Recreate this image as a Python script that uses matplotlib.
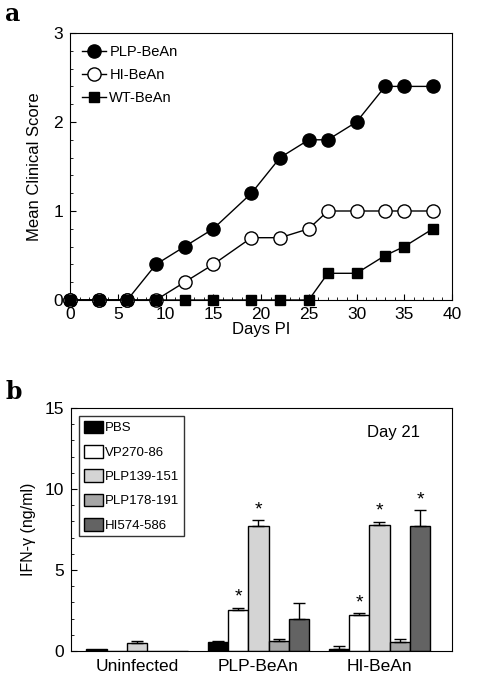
import matplotlib
matplotlib.use("Agg")
import matplotlib.pyplot as plt
import numpy as np
from matplotlib.ticker import MultipleLocator

plt.rcParams['font.family'] = ['Liberation Sans', 'DejaVu Sans']

# Panel a data
days = [0, 3, 6, 9, 12, 15, 19, 22, 25, 27, 30, 33, 35, 38]
plp_score = [0, 0, 0, 0.4, 0.6, 0.8, 1.2, 1.6, 1.8, 1.8, 2.0, 2.4, 2.4, 2.4]
hi_score = [0, 0, 0, 0, 0.2, 0.4, 0.7, 0.7, 0.8, 1.0, 1.0, 1.0, 1.0, 1.0]
wt_score = [0, 0, 0, 0, 0, 0, 0, 0, 0, 0.3, 0.3, 0.5, 0.6, 0.8]

# Panel b data
groups = ["Uninfected", "PLP-BeAn", "HI-BeAn"]
peptides = ["PBS", "VP270-86", "PLP139-151", "PLP178-191", "HI574-586"]
ifn_values = {
    "PBS":        [0.15, 0.56, 0.12],
    "VP270-86":   [0.0, 2.56, 2.20],
    "PLP139-151": [0.52, 7.71, 7.77],
    "PLP178-191": [0.0, 0.60, 0.54],
    "HI574-586":  [0.0, 1.98, 7.71],
}
ifn_errors = {
    "PBS":        [0.0, 0.05, 0.18],
    "VP270-86":   [0.0, 0.12, 0.15],
    "PLP139-151": [0.10, 0.35, 0.22],
    "PLP178-191": [0.0, 0.15, 0.23],
    "HI574-586":  [0.0, 1.00, 0.97],
}
significant = {
    "VP270-86": [False, True, True],
    "PLP139-151": [False, True, True],
    "HI574-586": [False, False, True],
}
bar_colors = ["#000000", "#ffffff", "#d4d4d4", "#a6a6a6", "#636363"]

fig = plt.figure(figsize=(4.87, 6.97), dpi=100)

# ---------- Panel a ----------
axa = fig.add_axes([70/487, 1-300/697, 382/487, 267/697])
axa.plot(days, plp_score, '-o', color='black', mfc='black', mec='black', ms=9.5, lw=1, label='PLP-BeAn', clip_on=False, zorder=3)
axa.plot(days, hi_score, '-o', color='black', mfc='white', mec='black', ms=9.5, lw=1, label='HI-BeAn', clip_on=False, zorder=4)
axa.plot(days, wt_score, '-s', color='black', mfc='black', mec='black', ms=7.5, lw=1, label='WT-BeAn', clip_on=False, zorder=5)
axa.set_xlim(0, 40)
axa.set_ylim(0, 3)
axa.xaxis.set_major_locator(MultipleLocator(5))
axa.xaxis.set_minor_locator(MultipleLocator(1))
axa.yaxis.set_major_locator(MultipleLocator(1))
axa.yaxis.set_minor_locator(MultipleLocator(0.2))
axa.tick_params(which='both', direction='in', top=False, right=False, labelsize=12.5)
axa.tick_params(which='major', length=4, pad=5)
axa.tick_params(which='minor', length=2.5)
axa.set_xlabel("Days PI", fontsize=12, labelpad=0)
axa.set_ylabel("Mean Clinical Score", fontsize=12, labelpad=8)
axa.legend(loc='upper left', frameon=False, fontsize=10.5, handlelength=1.6,
           handletextpad=0.25, borderaxespad=0.45, labelspacing=0.6,
           bbox_to_anchor=(0.0, 1.0))
fig.text(5/487, 1-14/697, "a", fontsize=17, fontweight='bold', family='DejaVu Serif', va='center')

# ---------- Panel b ----------
axb = fig.add_axes([71/487, 1-651/697, 381/487, 243/697])
w = 0.168
x = np.arange(len(groups))
for i, pep in enumerate(peptides):
    xs = x + (i - 2) * w
    vals = ifn_values[pep]
    errs = ifn_errors[pep]
    axb.bar(xs, vals, width=w, color=bar_colors[i], edgecolor='black', lw=1, label=pep, zorder=2)
    for j in range(len(groups)):
        if vals[j] > 0 and errs[j] > 0:
            axb.errorbar(xs[j], vals[j], yerr=[[0], [errs[j]]], fmt='none', ecolor='black',
                         elinewidth=1, capsize=4, capthick=1, zorder=3)
        if pep in significant and significant[pep][j]:
            axb.text(xs[j], vals[j] + errs[j] + 0.1, "*", ha='center', va='bottom', fontsize=14)
axb.set_xlim(-0.548, 2.60)
axb.set_ylim(0, 15)
axb.set_xticks(x)
axb.set_xticklabels(groups, fontsize=12.5)
axb.tick_params(axis='x', length=0, pad=6)
axb.yaxis.set_major_locator(MultipleLocator(5))
axb.yaxis.set_minor_locator(MultipleLocator(1))
axb.tick_params(axis='y', which='both', direction='in', right=False, labelsize=12.5)
axb.tick_params(axis='y', which='major', length=4, pad=5)
axb.tick_params(axis='y', which='minor', length=2.5)
axb.set_ylabel("IFN-\u03b3 (ng/ml)", fontsize=11.5, labelpad=6)
axb.text(0.915, 0.93, "Day 21", transform=axb.transAxes, ha='right', va='top', fontsize=12)
leg = axb.legend(loc='upper left', frameon=True, fancybox=False, fontsize=9.5,
                 handlelength=1.5, handleheight=1.1, handletextpad=0.1,
                 labelspacing=0.8, borderaxespad=0.6, borderpad=0.35)
leg.get_frame().set_edgecolor('black')
leg.get_frame().set_linewidth(1)
fig.text(5/487, 1-392/697, "b", fontsize=17, fontweight='bold', family='DejaVu Serif', va='center')

fig.savefig("out.png", dpi=100)
